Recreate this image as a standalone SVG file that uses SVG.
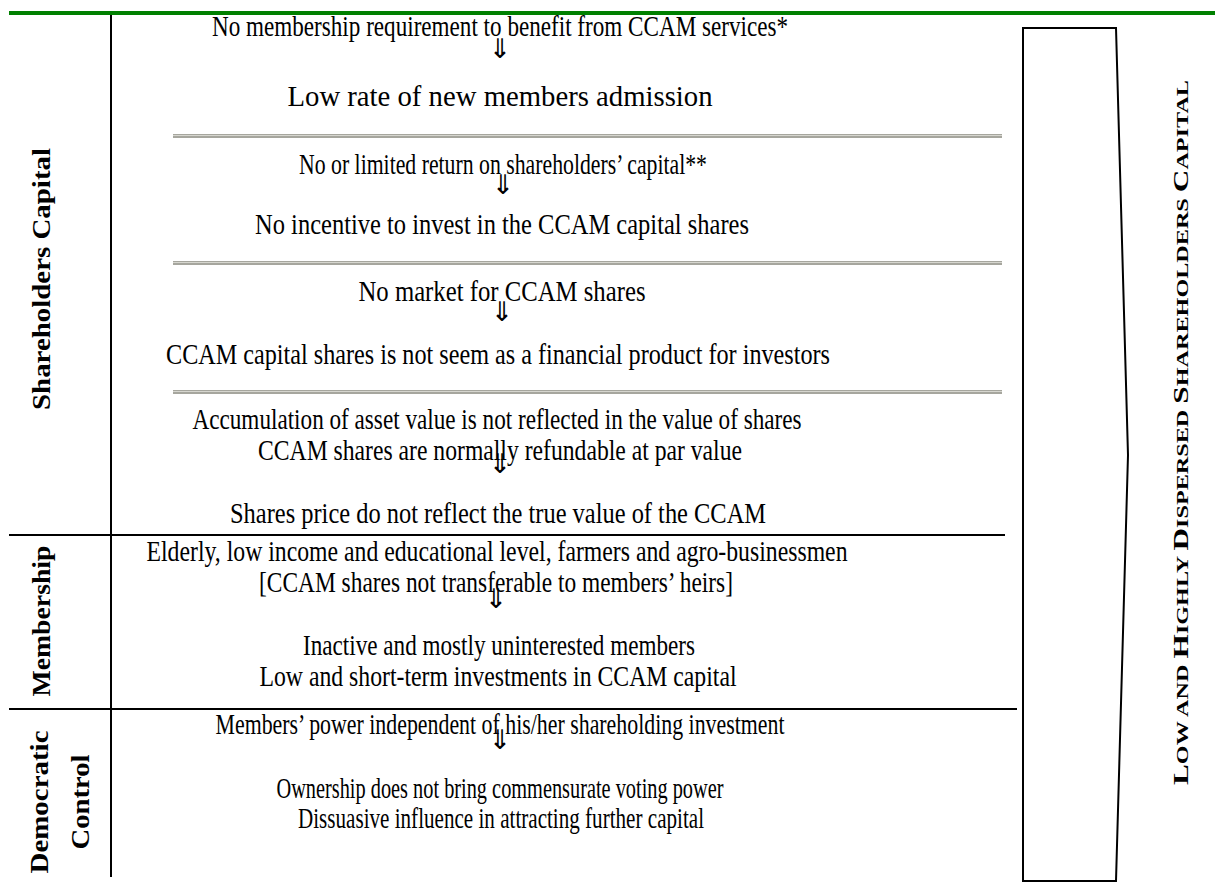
<svg xmlns="http://www.w3.org/2000/svg" width="1215" height="889" viewBox="0 0 1215 889">
<style>
.t{font-family:"Liberation Serif","Times New Roman",serif;font-size:23px;fill:#000;text-anchor:middle}
.a{font-family:"Noto Sans CJK JP","DejaVu Sans",sans-serif;font-size:27px;fill:#000;text-anchor:middle}
.lab{font-family:"Liberation Serif","Times New Roman",serif;font-size:25px;font-weight:bold;fill:#000;text-anchor:middle}
.big{font-family:"Liberation Serif","Times New Roman",serif;font-weight:bold;fill:#000}
.ln{stroke:#000;stroke-width:2;fill:none}
.sep{fill:#a6a69e}
.sepl{fill:#d6d6cf}
</style>
<g id="frame">
<line x1="9" y1="13" x2="1215" y2="13" stroke="#008000" stroke-width="4"/>
<line class="ln" x1="111" y1="15" x2="111" y2="877"/>
<line class="ln" x1="9" y1="535" x2="1005" y2="535"/>
<line class="ln" x1="9" y1="709" x2="1017" y2="709"/>
<rect class="sep" x="173" y="134" width="829" height="4"/><rect class="sepl" x="173" y="135" width="829" height="1"/>
<rect class="sep" x="173" y="261" width="829" height="4"/><rect class="sepl" x="173" y="262" width="829" height="1"/>
<rect class="sep" x="173" y="390" width="829" height="4"/><rect class="sepl" x="173" y="391" width="829" height="1"/>
</g>
<g id="labels">
<text class="lab" transform="translate(50,279) rotate(-90)" textLength="262" lengthAdjust="spacingAndGlyphs">Shareholders Capital</text>
<text class="lab" transform="translate(50,621) rotate(-90)" textLength="151" lengthAdjust="spacingAndGlyphs">Membership</text>
<text class="lab" transform="translate(48,802) rotate(-90)" textLength="143" lengthAdjust="spacingAndGlyphs">Democratic</text>
<text class="lab" transform="translate(89,802) rotate(-90)" textLength="95" lengthAdjust="spacingAndGlyphs">Control</text>
</g>
<g id="arrows">
<text class="a" x="500" y="58">⇓</text>
<text class="a" x="503" y="194">⇓</text>
<text class="a" x="502" y="321">⇓</text>
<text class="a" x="500" y="473">⇓</text>
<text class="a" x="496" y="608">⇓</text>
<text class="a" x="500" y="749">⇓</text>
</g>
<g id="s1">
<text class="t" transform="translate(500,36) scale(1,1.25)" textLength="576" lengthAdjust="spacingAndGlyphs">No membership requirement to benefit from CCAM services*</text>
<text class="t" transform="translate(500,106) scale(1,1.25)" textLength="425" lengthAdjust="spacingAndGlyphs">Low rate of new members admission</text>
</g>
<g id="s2">
<text class="t" transform="translate(503,174) scale(1,1.25)" textLength="408" lengthAdjust="spacingAndGlyphs">No or limited return on shareholders’ capital**</text>
<text class="t" transform="translate(502,234) scale(1,1.25)" textLength="494" lengthAdjust="spacingAndGlyphs">No incentive to invest in the CCAM capital shares</text>
</g>
<g id="s3">
<text class="t" transform="translate(502,301) scale(1,1.25)" textLength="287" lengthAdjust="spacingAndGlyphs">No market for CCAM shares</text>
<text class="t" transform="translate(498,364) scale(1,1.25)" textLength="664" lengthAdjust="spacingAndGlyphs">CCAM capital shares is not seem as a financial product for investors</text>
</g>
<g id="s4">
<text class="t" transform="translate(497,429) scale(1,1.25)" textLength="609" lengthAdjust="spacingAndGlyphs">Accumulation of asset value is not reflected in the value of shares</text>
<text class="t" transform="translate(500,460) scale(1,1.25)" textLength="484" lengthAdjust="spacingAndGlyphs">CCAM shares are normally refundable at par value</text>
<text class="t" transform="translate(498,523) scale(1,1.25)" textLength="536" lengthAdjust="spacingAndGlyphs">Shares price do not reflect the true value of the CCAM</text>
</g>
<g id="membership">
<text class="t" transform="translate(497,561) scale(1,1.25)" textLength="701" lengthAdjust="spacingAndGlyphs">Elderly, low income and educational level, farmers and agro-businessmen</text>
<text class="t" transform="translate(496,592) scale(1,1.25)" textLength="474" lengthAdjust="spacingAndGlyphs">[CCAM shares not transferable to members’ heirs]</text>
<text class="t" transform="translate(499,655) scale(1,1.25)" textLength="392" lengthAdjust="spacingAndGlyphs">Inactive and mostly uninterested members</text>
<text class="t" transform="translate(498,686) scale(1,1.25)" textLength="477" lengthAdjust="spacingAndGlyphs">Low and short-term investments in CCAM capital</text>
</g>
<g id="democratic">
<text class="t" transform="translate(500,734) scale(1,1.25)" textLength="569" lengthAdjust="spacingAndGlyphs">Members’ power independent of his/her shareholding investment</text>
<text class="t" transform="translate(500,798) scale(1,1.25)" textLength="447" lengthAdjust="spacingAndGlyphs">Ownership does not bring commensurate voting power</text>
<text class="t" transform="translate(501,828) scale(1,1.25)" textLength="406" lengthAdjust="spacingAndGlyphs">Dissuasive influence in attracting further capital</text>
</g>
<g id="result">
<polygon class="ln" points="1023,28 1116,28 1128,455 1116,881 1023,881"/>
<text class="big" transform="translate(1188,785) rotate(-90)" textLength="705" lengthAdjust="spacingAndGlyphs"><tspan font-size="22">L</tspan><tspan font-size="17">OW AND </tspan><tspan font-size="22">H</tspan><tspan font-size="17">IGHLY </tspan><tspan font-size="22">D</tspan><tspan font-size="17">ISPERSED </tspan><tspan font-size="22">S</tspan><tspan font-size="17">HAREHOLDERS </tspan><tspan font-size="22">C</tspan><tspan font-size="17">APITAL</tspan></text>
</g>
</svg>
